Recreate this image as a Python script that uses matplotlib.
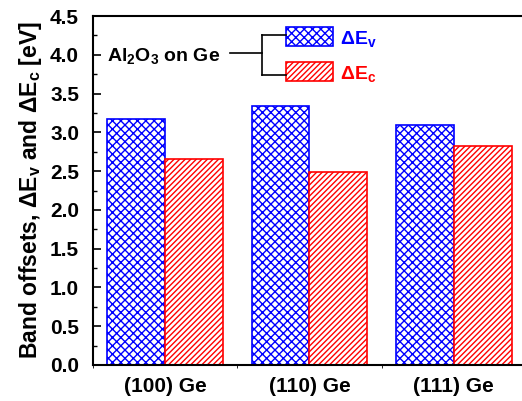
import matplotlib
matplotlib.use("Agg")
import matplotlib.pyplot as plt
from matplotlib.patches import Rectangle
from matplotlib.lines import Line2D
from matplotlib.ticker import MultipleLocator

plt.rcParams['font.family'] = ['Liberation Sans', 'DejaVu Sans']
plt.rcParams['font.weight'] = 'bold'
plt.rcParams['mathtext.default'] = 'regular'
plt.rcParams['hatch.linewidth'] = 1.0

categories = ['(100) Ge', '(110) Ge', '(111) Ge']
delta_ev = [3.17, 3.34, 3.09]
delta_ec = [2.65, 2.49, 2.83]

blue = '#0000ff'
red = '#ff0000'

fig = plt.figure(figsize=(5.22, 4.01), dpi=100)
ax = fig.add_axes([93 / 522, 1 - 365 / 401, 433 / 522, 349 / 401])

x = list(range(len(categories)))
w = 0.4
ax.bar([i - w / 2 for i in x], delta_ev, width=w, facecolor='white',
       edgecolor=blue, hatch='xxxx', linewidth=1.2)
ax.bar([i + w / 2 for i in x], delta_ec, width=w, facecolor='white',
       edgecolor=red, hatch='//////', linewidth=1.2)

ax.set_xlim(-0.5, 2.5)
ax.set_ylim(0, 4.5)
ax.set_xticks(x)
ax.set_xticklabels(categories, fontsize=15, fontweight='bold')
ax.xaxis.set_minor_locator(MultipleLocator(0.5))
ax.tick_params(axis='x', which='major', length=0, pad=9)
ax.tick_params(axis='x', which='minor', length=2, direction='out')
ax.yaxis.set_major_locator(MultipleLocator(0.5))
ax.yaxis.set_minor_locator(MultipleLocator(0.25))
ax.yaxis.set_major_formatter(matplotlib.ticker.FormatStrFormatter('%.1f'))
ax.tick_params(axis='y', which='major', direction='in', length=6, width=1.2,
               labelsize=15, pad=10)
ax.tick_params(axis='y', which='minor', direction='in', length=3, width=1.0)
for lab in ax.get_yticklabels():
    lab.set_fontweight('bold')
for s in ax.spines.values():
    s.set_linewidth(1.5)
ax.spines['right'].set_visible(False)

ax.set_ylabel(r'Band offsets, $\Delta$E$_v$ and $\Delta$E$_c$ [eV]',
              fontsize=16.5, fontweight='bold', labelpad=4)

# legend drawn by hand with a bracket
tr = ax.transAxes
ax.add_patch(Rectangle((0.4457, 0.914), 0.108, 0.054, transform=tr,
                       facecolor='white', edgecolor=blue, hatch='xxxx',
                       linewidth=1.2, clip_on=False))
ax.add_patch(Rectangle((0.4457, 0.814), 0.108, 0.054, transform=tr,
                       facecolor='white', edgecolor=red, hatch='//////',
                       linewidth=1.2, clip_on=False))
for xs, ys in [([0.316, 0.390], [0.894, 0.894]),
               ([0.390, 0.390], [0.946, 0.831]),
               ([0.390, 0.4457], [0.946, 0.946]),
               ([0.390, 0.4457], [0.831, 0.831])]:
    ax.add_line(Line2D(xs, ys, transform=tr, color='black', linewidth=1.2))
ax.text(0.032, 0.885, r'Al$_2$O$_3$ on Ge', transform=tr, fontsize=14,
        fontweight='bold', va='center', ha='left')
ax.text(0.57, 0.935, r'$\Delta$E$_v$', transform=tr, fontsize=14,
        fontweight='bold', color=blue, va='center', ha='left')
ax.text(0.57, 0.835, r'$\Delta$E$_c$', transform=tr, fontsize=14,
        fontweight='bold', color=red, va='center', ha='left')

fig.savefig('out.png', dpi=100)
